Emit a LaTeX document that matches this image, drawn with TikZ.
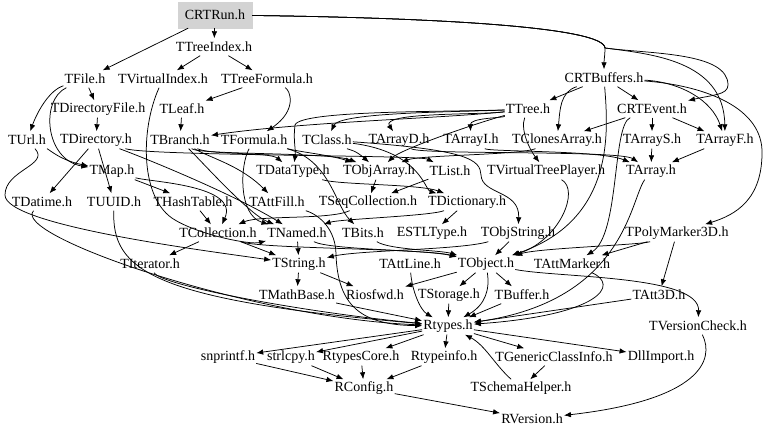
\documentclass[tikz,border=0pt]{standalone}
\usepackage{fontspec}
\setmainfont{Liberation Serif}
\usepackage{tikz}
\usetikzlibrary{arrows.meta}

\definecolor{boxgrey}{HTML}{D3D3D3}
\tikzset{
	hdr/.style={inner xsep=1pt, inner ysep=0pt, minimum height=17pt, font=\fontsize{14}{16}\selectfont},
	rootbox/.style={hdr, fill=boxgrey, draw=boxgrey, minimum width=74pt, minimum height=26pt},
	dep/.style={-{Latex[length=7pt,width=5.5pt]}, line width=0.75pt}
}

\begin{document}
\begin{tikzpicture}[x=1pt,y=-1pt]
	
	\useasboundingbox (0,0) rectangle (768,435);
	
	% Headers, one row of the include graph after the other
	
	\node[rootbox] (CRTRun) at (215,15) {CRTRun.h};
	
	\node[hdr] (TTreeIndex) at (214,47) {TTreeIndex.h};
	
	\node[hdr] (TFile)         at (85,79)  {TFile.h};
	\node[hdr] (TVirtualIndex) at (163,79) {TVirtualIndex.h};
	\node[hdr] (TTreeFormula)  at (267,79) {TTreeFormula.h};
	\node[hdr] (CRTBuffers)    at (604,78) {CRTBuffers.h};
	
	\node[hdr] (TDirectoryFile) at (98,109)  {TDirectoryFile.h};
	\node[hdr] (TLeaf)          at (182,109) {TLeaf.h};
	\node[hdr] (TTree)          at (528,109) {TTree.h};
	\node[hdr] (CRTEvent)       at (652,109) {CRTEvent.h};
	
	\node[hdr] (TUrl)         at (27,140)  {TUrl.h};
	\node[hdr] (TDirectory)   at (96,140)  {TDirectory.h};
	\node[hdr] (TBranch)      at (180,140) {TBranch.h};
	\node[hdr] (TFormula)     at (254,140) {TFormula.h};
	\node[hdr] (TClass)       at (327,140) {TClass.h};
	\node[hdr] (TArrayD)      at (399,140) {TArrayD.h};
	\node[hdr] (TArrayI)      at (471,140) {TArrayI.h};
	\node[hdr] (TClonesArray) at (557,140) {TClonesArray.h};
	\node[hdr] (TArrayS)      at (652,140) {TArrayS.h};
	\node[hdr] (TArrayF)      at (725,140) {TArrayF.h};
	
	\node[hdr] (TMap)               at (112,171) {TMap.h};
	\node[hdr] (TDataType)          at (293,171) {TDataType.h};
	\node[hdr] (TObjArray)          at (379,171) {TObjArray.h};
	\node[hdr] (TList)              at (450,171) {TList.h};
	\node[hdr] (TVirtualTreePlayer) at (546,171) {TVirtualTreePlayer.h};
	\node[hdr] (TArray)             at (651,171) {TArray.h};
	
	\node[hdr] (TDatime)        at (42,202)  {TDatime.h};
	\node[hdr] (TUUID)          at (114,202) {TUUID.h};
	\node[hdr] (THashTable)     at (193,202) {THashTable.h};
	\node[hdr] (TAttFill)       at (277,202) {TAttFill.h};
	\node[hdr] (TSeqCollection) at (368,202) {TSeqCollection.h};
	\node[hdr] (TDictionary)    at (467,202) {TDictionary.h};
	
	\node[hdr] (TCollection)   at (218,233) {TCollection.h};
	\node[hdr] (TNamed)        at (297,233) {TNamed.h};
	\node[hdr] (TBits)         at (363,233) {TBits.h};
	\node[hdr] (ESTLType)      at (432,233) {ESTLType.h};
	\node[hdr] (TObjString)    at (518,233) {TObjString.h};
	\node[hdr] (TPolyMarker3D) at (677,233) {TPolyMarker3D.h};
	
	\node[hdr] (TIterator)  at (150,264) {TIterator.h};
	\node[hdr] (TString)    at (299,264) {TString.h};
	\node[hdr] (TAttLine)   at (410,264) {TAttLine.h};
	\node[hdr] (TObject)    at (486,264) {TObject.h};
	\node[hdr] (TAttMarker) at (572,264) {TAttMarker.h};
	
	\node[hdr] (TMathBase) at (297,295) {TMathBase.h};
	\node[hdr] (Riosfwd)   at (375,295) {Riosfwd.h};
	\node[hdr] (TStorage)  at (449,295) {TStorage.h};
	\node[hdr] (TBuffer)   at (522,295) {TBuffer.h};
	\node[hdr] (TAtt3D)    at (659,295) {TAtt3D.h};
	
	\node[hdr] (Rtypes)        at (448,326) {Rtypes.h};
	\node[hdr] (TVersionCheck) at (698,326) {TVersionCheck.h};
	
	\node[hdr] (snprintf)          at (228,357) {snprintf.h};
	\node[hdr] (strlcpy)           at (291,357) {strlcpy.h};
	\node[hdr] (RtypesCore)        at (361,357) {RtypesCore.h};
	\node[hdr] (Rtypeinfo)         at (444,357) {Rtypeinfo.h};
	\node[hdr] (TGenericClassInfo) at (554,357) {TGenericClassInfo.h};
	\node[hdr] (DllImport)         at (661,357) {DllImport.h};
	
	\node[hdr] (RConfig)       at (364,388) {RConfig.h};
	\node[hdr] (TSchemaHelper) at (521,388) {TSchemaHelper.h};
	
	\node[hdr] (RVersion) at (532,419) {RVersion.h};
	
	% Where the long edge out of CRTRun.h splits up
	\coordinate (Split) at (605,48);
	
	%%%%%%%%%%%%%%%%%%%%%%%%%%%%%%%%%%%%%%%%%%%%%%%%%%%%%%%%%%%%%%
	% Include edges, straight ones first
	
	\draw[dep] (CRTRun) -- (TTreeIndex);
	\draw[dep] (CRTRun) -- (TFile);
	\draw[dep] (TTreeIndex) -- (TVirtualIndex);
	\draw[dep] (TTreeIndex) -- (TTreeFormula);
	\draw[dep] (TFile) -- (TDirectoryFile);
	\draw[dep] (TTreeFormula) -- (TLeaf);
	\draw[dep] (TDirectoryFile) -- (TDirectory);
	\draw[dep] (TLeaf) -- (TBranch);
	\draw[dep] (CRTBuffers) -- (TTree);
	\draw[dep] (CRTBuffers) -- (CRTEvent);
	\draw[dep] (CRTEvent) -- (TArrayS);
	\draw[dep] (CRTEvent) -- (TArrayF);
	\draw[dep] (CRTEvent) -- (TClonesArray);
	\draw[dep] (TArrayS) -- (TArray);
	\draw[dep] (TArrayF) -- (TArray);
	\draw[dep] (TDirectory) -- (TDatime);
	\draw[dep] (TDirectory) -- (TUUID);
	\draw[dep] (TMap) -- (THashTable);
	\draw[dep] (THashTable) -- (TCollection);
	\draw[dep] (TDictionary) -- (ESTLType);
	\draw[dep] (TObjArray) -- (TSeqCollection);
	\draw[dep] (TList) -- (TSeqCollection);
	\draw[dep] (TCollection) -- (TIterator);
	\draw[dep] (TCollection) -- (TString);
	\draw[dep] (TNamed) -- (TString);
	\draw[dep] (TString) -- (TMathBase);
	\draw[dep] (TString) -- (Riosfwd);
	\draw[dep] (TObject) -- (TStorage);
	\draw[dep] (TObject) -- (TBuffer);
	\draw[dep] (TObject) -- (Riosfwd);
	\draw[dep] (TObjString) -- (TObject);
	\draw[dep] (TPolyMarker3D) -- (TAtt3D);
	\draw[dep] (TPolyMarker3D) -- (TAttMarker);
	\draw[dep] (TStorage) -- (Rtypes);
	\draw[dep] (TMathBase) -- (Rtypes);
	\draw[dep] (TBuffer) -- (Rtypes);
	\draw[dep] (TAtt3D) -- (Rtypes);
	\draw[dep] (Rtypes) -- (snprintf);
	\draw[dep] (Rtypes) -- (strlcpy);
	\draw[dep] (Rtypes) -- (RtypesCore);
	\draw[dep] (Rtypes) -- (Rtypeinfo);
	\draw[dep] (Rtypes) -- (TGenericClassInfo);
	\draw[dep] (Rtypes) -- (DllImport);
	\draw[dep] (snprintf) -- (RConfig);
	\draw[dep] (strlcpy) -- (RConfig);
	\draw[dep] (RtypesCore) -- (RConfig);
	\draw[dep] (Rtypeinfo) -- (RConfig);
	\draw[dep] (TGenericClassInfo) -- (TSchemaHelper);
	\draw[dep] (RConfig) -- (RVersion);
	
	% Curved edges, routed round the other headers
	
	\draw[dep] (CRTRun) .. controls (450,18) and (604,28) .. (Split)
		.. controls (605,55) and (604,60) .. (CRTBuffers);
	\draw[dep] (CRTRun) .. controls (450,18) and (604,28) .. (Split)
		.. controls (650,54) and (728,52) .. (728,85)
		.. controls (728,95) and (712,95) .. (CRTEvent);
	\draw[dep] (CRTRun) .. controls (450,18) and (604,28) .. (Split)
		.. controls (650,54) and (724,60) .. (TArrayF);
	\draw[dep] (CRTBuffers) .. controls (680,82) and (712,100) .. (TArrayF);
	\draw[dep] (CRTBuffers) .. controls (700,85) and (760,105) .. (762,150)
		.. controls (763,200) and (735,215) .. (TPolyMarker3D);
	\draw[dep] (CRTBuffers) .. controls (560,92) and (560,110) .. (TClonesArray);
	\draw[dep] (CRTBuffers) .. controls (608,130) and (616,220) .. (TObject);
	\draw[dep] (CRTEvent) .. controls (612,125) and (620,235) .. (TAttMarker);
	
	\draw[dep] (TTreeFormula) .. controls (290,90) and (298,110) .. (TFormula);
	\draw[dep] (TFile) .. controls (50,90) and (38,110) .. (TUrl);
	\draw[dep] (TFile) .. controls (40,100) and (45,160) .. (TMap);
	\draw[dep] (TUrl) .. controls (50,150) and (60,160) .. (TMap);
	\draw[dep] (TUrl) .. controls (50,165) and (5,170) .. (5,195)
		.. controls (5,225) and (200,250) .. (TString);
	\draw[dep] (TMap) .. controls (150,182) and (240,185) .. (TCollection);
	
	\draw[dep] (TDirectory) .. controls (150,160) and (235,195) .. (TNamed);
	\draw[dep] (TDirectory) .. controls (150,156) and (420,155) .. (TList);
	\draw[dep] (TVirtualIndex) .. controls (140,130) and (140,200) .. (175,220)
		.. controls (200,235) and (250,245) .. (TNamed);
	
	\draw[dep] (TBranch) .. controls (205,165) and (250,215) .. (TNamed);
	\draw[dep] (TBranch) .. controls (210,158) and (240,165) .. (TAttFill);
	\draw[dep] (TBranch) .. controls (210,155) and (270,152) .. (TDataType);
	\draw[dep] (TBranch) .. controls (200,155) and (330,152) .. (TObjArray);
	
	\draw[dep] (TFormula) .. controls (240,165) and (238,215) .. (TNamed);
	\draw[dep] (TFormula) .. controls (330,160) and (335,205) .. (TBits);
	\draw[dep] (TFormula) .. controls (300,152) and (330,155) .. (TObjArray);
	
	\draw[dep] (TTree) .. controls (450,118) and (300,122) .. (TBranch);
	\draw[dep] (TTree) .. controls (480,115) and (380,112) .. (TArrayD);
	\draw[dep] (TTree) .. controls (500,118) and (470,118) .. (TArrayI);
	\draw[dep] (TTree) .. controls (460,112) and (340,112) .. (TClass);
	\draw[dep] (TTree) .. controls (450,112) and (300,110) .. (295,125)
		.. controls (293,140) and (296,150) .. (TDataType);
	\draw[dep] (TTree) .. controls (470,125) and (400,150) .. (TObjArray);
	\draw[dep] (TTree) .. controls (520,130) and (530,150) .. (TVirtualTreePlayer);
	
	\draw[dep] (TClass) .. controls (350,150) and (355,150) .. (TObjArray);
	\draw[dep] (TClass) .. controls (420,152) and (425,190) .. (TDictionary);
	\draw[dep] (TClass) .. controls (470,150) and (480,160) .. (481,175)
		.. controls (482,195) and (520,190) .. (TObjString);
	\draw[dep] (TClonesArray) .. controls (520,155) and (420,155) .. (TObjArray);
	\draw[dep] (TArrayD) .. controls (420,155) and (620,150) .. (TArray);
	\draw[dep] (TArrayI) .. controls (490,152) and (600,150) .. (TArray);
	\draw[dep] (TDataType) .. controls (340,185) and (420,184) .. (TDictionary);
	
	\draw[dep] (TSeqCollection) .. controls (330,220) and (260,215) .. (TCollection);
	\draw[dep] (TDictionary) .. controls (430,216) and (340,219) .. (TNamed);
	\draw[dep] (TCollection) .. controls (260,249) and (420,248) .. (TObject);
	\draw[dep] (TNamed) .. controls (330,250) and (430,250) .. (TObject);
	\draw[dep] (TBits) .. controls (390,250) and (440,250) .. (TObject);
	\draw[dep] (TObjString) .. controls (460,250) and (360,250) .. (TString);
	\draw[dep] (TVirtualTreePlayer) .. controls (580,190) and (560,240) .. (TObject);
	\draw[dep] (TPolyMarker3D) .. controls (640,245) and (540,248) .. (TObject);
	
	\draw[dep] (TArray) .. controls (630,200) and (625,300) .. (Rtypes);
	\draw[dep] (TAttMarker) .. controls (620,285) and (600,315) .. (Rtypes);
	\draw[dep] (TIterator) .. controls (160,285) and (300,312) .. (Rtypes);
	\draw[dep] (TDatime) .. controls (10,235) and (250,318) .. (Rtypes);
	\draw[dep] (TUUID) .. controls (112,270) and (150,300) .. (Rtypes);
	\draw[dep] (TAttFill) .. controls (320,215) and (336,230) .. (336,255)
		.. controls (338,305) and (360,325) .. (Rtypes);
	\draw[dep] (TAttLine) .. controls (412,290) and (420,310) .. (Rtypes);
	\draw[dep] (TObject) .. controls (490,290) and (485,305) .. (Rtypes);
	\draw[dep] (TObject) .. controls (560,278) and (700,275) .. (TVersionCheck);
	\draw[dep] (TVersionCheck) .. controls (715,360) and (700,400) .. (RVersion);
	\draw[dep] (TSchemaHelper) .. controls (495,365) and (485,345) .. (Rtypes);
	
\end{tikzpicture}
\end{document}
